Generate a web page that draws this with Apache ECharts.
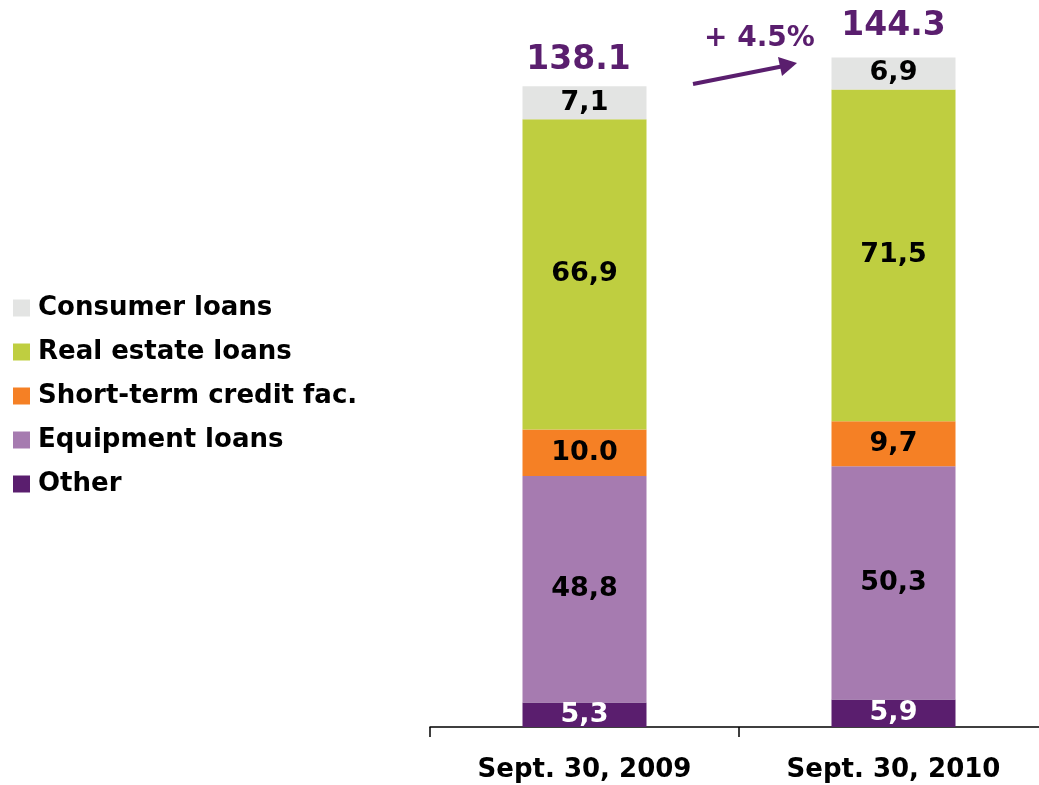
<!DOCTYPE html>
<html>
<head>
<meta charset="utf-8">
<script src="https://cdn.jsdelivr.net/npm/echarts@6/dist/echarts.min.js"></script>
<style>
  html, body { margin: 0; padding: 0; background: #fff; overflow: hidden; }
  /* the axis runs past the right edge of the slide */
  #chart { width: 1050px; height: 785px; }
</style>
</head>
<body>
<div id="chart"></div>
<script>
var categories = ['Sept. 30, 2009', 'Sept. 30, 2010'];
var seriesNames = ['Other', 'Equipment loans', 'Short-term credit fac.', 'Real estate loans', 'Consumer loans'];
var other = [5.3, 5.9];
var equipment = [48.8, 50.3];
var shortTerm = [10.0, 9.7];
var realEstate = [66.9, 71.5];
var consumer = [7.1, 6.9];
// labels as printed on the slide (mixed decimal marks)
var otherLabels = ['5,3', '5,9'];
var equipmentLabels = ['48,8', '50,3'];
var shortTermLabels = ['10.0', '9,7'];
var realEstateLabels = ['66,9', '71,5'];
var consumerLabels = ['7,1', '6,9'];
var totals = ['138.1', '144.3'];
var growthLabel = '+ 4.5%';

var colors = ['#5a1e6e', '#a67bb0', '#f58025', '#bfce40', '#e3e4e3'];
var values = [other, equipment, shortTerm, realEstate, consumer];
var labels = [otherLabels, equipmentLabels, shortTermLabels, realEstateLabels, consumerLabels];
var font = '"DejaVu Sans", Verdana, sans-serif';

var series = seriesNames.map(function (name, i) {
    return {
        name: name,
        type: 'bar',
        stack: 'total',
        barWidth: 124,
        itemStyle: { color: colors[i] },
        label: {
            show: true,
            position: 'inside',
            fontFamily: font,
            fontWeight: 'bold',
            fontSize: 27,
            color: i === 0 ? '#ffffff' : '#000000',
            formatter: function (p) { return labels[i][p.dataIndex]; }
        },
        data: values[i]
    };
});
// totals above the stack
series.push({
    name: 'total',
    type: 'bar',
    stack: 'total',
    barWidth: 124,
    data: [
        { value: 0, label: { offset: [-6, 0] } },
        { value: 0, label: { offset: [0, -6] } }
    ],
    itemStyle: { color: 'transparent' },
    label: {
        show: true,
        position: 'top',
        distance: 9,
        fontFamily: font,
        fontWeight: 'bold',
        fontSize: 33,
        color: '#5a1e6e',
        formatter: function (p) { return totals[p.dataIndex]; }
    }
});

var myChart = echarts.init(document.getElementById('chart'));
myChart.setOption({
    animation: false,
    textStyle: { fontFamily: font },
    legend: {
        left: 8,
        top: 290,
        orient: 'vertical',
        itemWidth: 17,
        itemHeight: 17,
        itemGap: 18,
        icon: 'rect',
        data: seriesNames.slice().reverse(),
        textStyle: { fontFamily: font, fontWeight: 'bold', fontSize: 26, color: '#000', padding: [0, 0, 0, 3] },
        selectedMode: false
    },
    grid: { left: 430, top: 31, width: 618, height: 696 },
    xAxis: {
        type: 'category',
        data: categories,
        axisLine: { lineStyle: { color: '#000', width: 1.5 } },
        axisTick: { show: true, length: 10, lineStyle: { color: '#000', width: 1.5 } },
        axisLabel: { fontFamily: font, fontWeight: 'bold', fontSize: 26, color: '#000', margin: 30 }
    },
    yAxis: { type: 'value', min: 0, max: 150, show: false },
    series: series,
    graphic: [
        {
            type: 'polyline',
            shape: { points: [[693, 84], [784, 66]] },
            style: { stroke: '#5a1e6e', lineWidth: 4, fill: null }
        },
        {
            type: 'polygon',
            shape: { points: [[797, 63], [778, 57], [782, 76]] },
            style: { fill: '#5a1e6e' }
        },
        {
            type: 'text',
            left: 704,
            top: 25,
            style: { text: growthLabel, fontFamily: font, fontWeight: 'bold', fontSize: 28, fill: '#5a1e6e' }
        }
    ]
});
</script>
</body>
</html>
